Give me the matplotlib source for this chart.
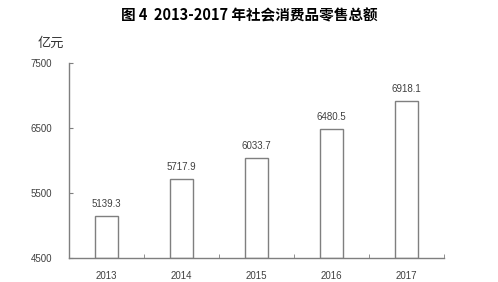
import numpy as np
import matplotlib
matplotlib.use("Agg")
import matplotlib.pyplot as plt

plt.rcParams['font.family'] = ['Liberation Sans', 'Noto Sans CJK SC', 'DejaVu Sans']

# ============================================================
# 数据
# ============================================================
years = ["2013", "2014", "2015", "2016", "2017"]
values = [5139.3, 5717.9, 6033.7, 6480.5, 6918.1]
y_ticks = [4500, 5500, 6500, 7500]

GRAY = "#7f7f7f"
TXT = "#404040"

fig = plt.figure(figsize=(4.98, 2.82), dpi=100)
ax = fig.add_axes([0.1386, 0.0851, 0.753, 0.6915])

x = np.arange(len(years))
ax.bar(x, [v - 4500 for v in values], bottom=4500, width=0.31,
       facecolor="white", edgecolor=GRAY, linewidth=1.0)

for xi, v in zip(x, values):
    ax.text(xi, v + 110, f"{v:.1f}", ha="center", va="bottom",
            fontsize=7, color=TXT)

ax.set_xlim(-0.5, 4.5)
ax.set_ylim(4500, 7500)
ax.set_yticks(y_ticks)
ax.set_yticklabels([str(t) for t in y_ticks], fontsize=7, color=TXT)
ax.tick_params(axis="y", direction="in", length=3, color=GRAY, pad=12)

ax.set_xticks(x)
ax.set_xticklabels(years, fontsize=7, color=TXT)
ax.tick_params(axis="x", which="major", length=0, pad=9)
ax.set_xticks(np.arange(0.5, 5, 1.0), minor=True)
ax.tick_params(axis="x", which="minor", direction="in", length=3, color=GRAY)

for s in ["top", "right"]:
    ax.spines[s].set_visible(False)
for s in ["left", "bottom"]:
    ax.spines[s].set_color(GRAY)
    ax.spines[s].set_linewidth(1.0)

fig.text(0.5, 0.945, "图 4  2013-2017 年社会消费品零售总额", ha="center",
         va="center", fontsize=10.5, fontweight="bold",
         family=["Noto Sans CJK SC", "DejaVu Sans"])
fig.text(0.076, 0.848, "亿元", ha="left", va="center", fontsize=9.5,
         color="#333333", family=["Noto Sans CJK SC", "DejaVu Sans"])

fig.savefig("out.png", dpi=100)
